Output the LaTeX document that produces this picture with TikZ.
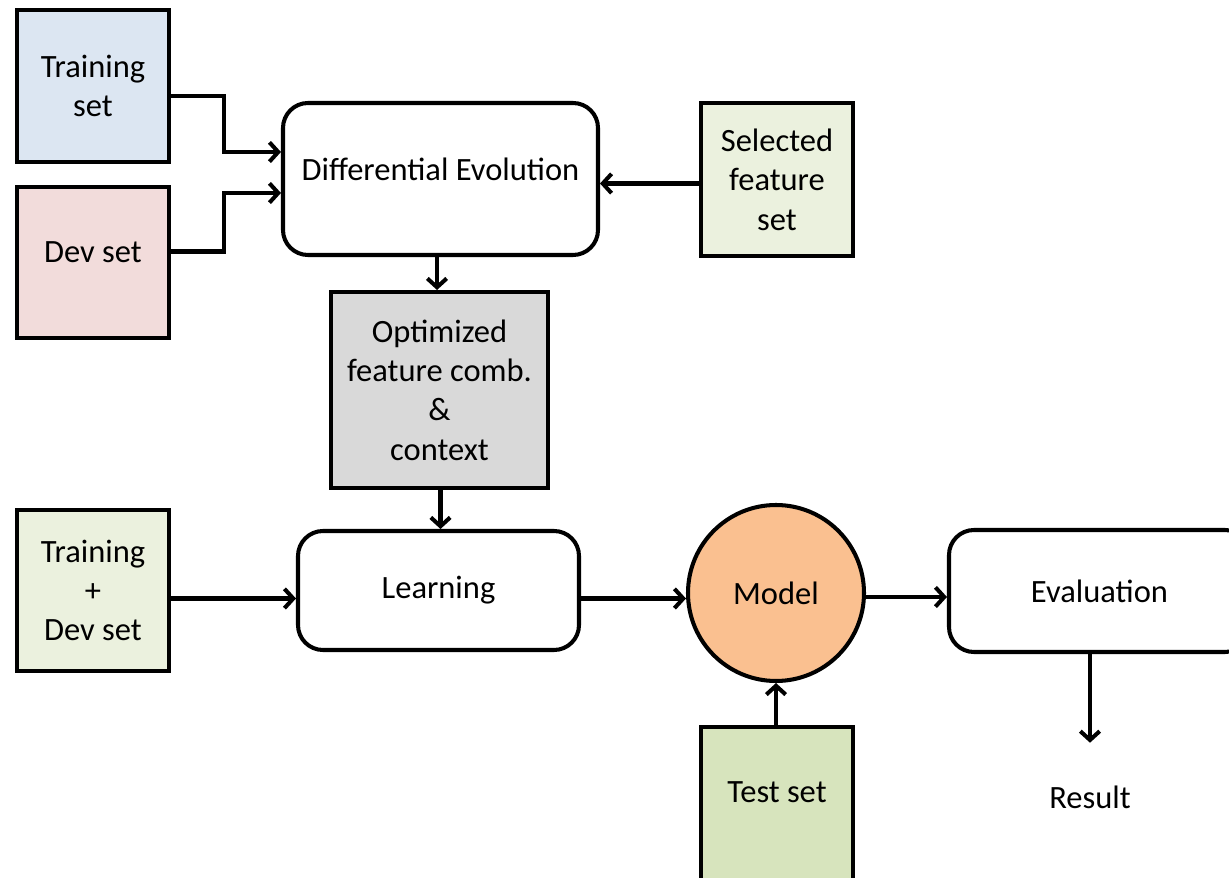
\documentclass[tikz,border=0pt]{standalone}
\usepackage{fontspec}
\setmainfont{Carlito}
\usetikzlibrary{arrows.meta}
\definecolor{bluefill}{HTML}{DCE6F2}
\definecolor{redfill}{HTML}{F2DCDB}
\definecolor{greenfill}{HTML}{EBF1DE}
\definecolor{testfill}{HTML}{D7E4BD}
\definecolor{greyfill}{HTML}{D9D9D9}
\definecolor{modelfill}{HTML}{FAC090}
\begin{document}
\begin{tikzpicture}[x=1cm,y=1cm, line width=2.3pt,
  every node/.style={font=\fontsize{18.5}{22.4}\selectfont, align=center},
  databox/.style={draw, line width=2.3pt, minimum width=3.04cm, minimum height=3.04cm, inner sep=0pt},
  procbox/.style={draw, line width=2.3pt, rounded corners=0.5cm, inner sep=0pt},
  flow/.style={line width=2.3pt, -{Straight Barb[length=5pt,width=11pt,line width=2.3pt]}}]
\useasboundingbox (0,0) rectangle (24.58,-17.56);
\fill[white] (0,0) rectangle (24.58,-17.56);

\node[databox, fill=bluefill] (trainset) at (1.86,-1.72) {Training\\set};
\node[databox, fill=redfill, minimum height=3.02cm, text depth=0.4cm] (devset) at (1.86,-5.25) {Dev set};
\node[procbox, minimum width=6.3cm, minimum height=3.04cm, text depth=0.4cm] (diffevo) at (8.81,-3.58) {Differential Evolution};
\node[databox, fill=greenfill, minimum height=3.06cm] (selfeat) at (15.54,-3.59) {Selected\\feature\\set};
\node[databox, fill=greyfill, minimum width=4.34cm, minimum height=3.92cm] (optfeat) at (8.79,-7.8) {Optimized\\feature comb.\\\&\\context};

\node[databox, fill=greenfill, minimum height=3.22cm] (traindev) at (1.86,-11.81) {Training\\+\\Dev set};
\node[procbox, minimum width=5.62cm, minimum height=2.38cm] (learning) at (8.77,-11.81) {Learning};
\node[draw, line width=2.3pt, circle, fill=modelfill, minimum size=3.52cm, inner sep=0pt] (model) at (15.52,-11.86) {Model};
\node[procbox, minimum width=6.02cm, minimum height=2.44cm] (evaluation) at (21.99,-11.82) {Evaluation};
\node[databox, fill=testfill, minimum height=3.12cm, text depth=0.5cm] (testset) at (15.54,-16.1) {Test set};
\node (result) at (21.8,-15.94) {Result};

% top half
\draw[flow] ([yshift=-0.2cm]trainset.east) -- ++(1.06,0) |- ([yshift=0.54cm]diffevo.west);
\draw[flow] ([yshift=0.22cm]devset.east) -- ++(1.06,0) |- ([yshift=-0.28cm]diffevo.west);
\draw[flow] ([yshift=-0.08cm]selfeat.west) -- ([yshift=-0.08cm]selfeat.west -| diffevo.east);
\draw[flow] ([xshift=-0.07cm]diffevo.south) -- ([xshift=-0.07cm]diffevo.south |- optfeat.north);

% bottom half
\draw[flow] ([xshift=0.02cm]optfeat.south) -- ([xshift=0.02cm]optfeat.south |- learning.north);
\draw[flow] ([yshift=-0.16cm]traindev.east) -- ([yshift=-0.16cm]traindev.east -| learning.west);
\draw[flow] ([yshift=-0.16cm]learning.east) -- ([yshift=-0.16cm]learning.east -| model.west);
\draw[flow] ([yshift=-0.08cm]model.east) -- ([yshift=-0.08cm]model.east -| evaluation.west);
\draw[flow] (testset.north -| model.south) -- (model.south);
\draw[flow] (evaluation.south -| result.north) -- ([yshift=0.7cm]result.north);
\end{tikzpicture}
\end{document}
